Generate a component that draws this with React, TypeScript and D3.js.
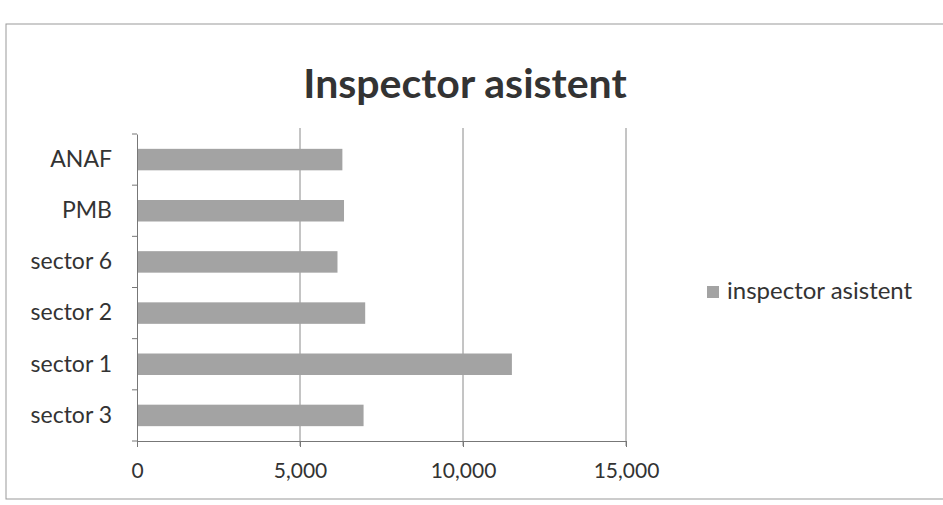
import * as d3 from 'd3';
import React, { useEffect, useRef } from 'react';

const categories = ['ANAF', 'PMB', 'sector 6', 'sector 2', 'sector 1', 'sector 3'];
const values = [6300, 6350, 6150, 7000, 11500, 6950];
const xTicks = [0, 5000, 10000, 15000];
const seriesName = 'inspector asistent';
const title = 'Inspector asistent';

const App = () => {
  const ref = useRef<SVGSVGElement>(null);

  useEffect(() => {
    const width = 943, height = 505;
    const margin = { top: 134, right: 317, bottom: 64, left: 137 };
    const font = 'Lato, Calibri, sans-serif';

    const svg = d3.select(ref.current);
    svg.selectAll('*').remove();

    svg.append('rect')
      .attr('width', width).attr('height', height).attr('fill', '#fff');

    // chart frame
    svg.append('rect')
      .attr('x', 6).attr('y', 24)
      .attr('width', width + 10).attr('height', 475)
      .attr('fill', 'none').attr('stroke', '#999').attr('stroke-width', 1);

    svg.append('text')
      .attr('x', 465).attr('y', 98)
      .attr('text-anchor', 'middle')
      .attr('font-family', font).attr('font-weight', 'bold')
      .attr('font-size', 41).attr('fill', '#333')
      .text(title);

    const x = d3.scaleLinear()
      .domain([0, 15000])
      .range([margin.left, width - margin.right]);

    const y = d3.scaleBand()
      .domain(categories)
      .range([margin.top, height - margin.bottom])
      .paddingInner(0.58)
      .paddingOuter(0.29);

    // gridlines
    svg.append('g')
      .selectAll('line')
      .data(xTicks.slice(1))
      .join('line')
      .attr('x1', d => x(d)).attr('x2', d => x(d))
      .attr('y1', margin.top - 6).attr('y2', height - margin.bottom + 5)
      .attr('stroke', '#8a8a8a').attr('stroke-width', 1);

    svg.selectAll('.bar')
      .data(categories)
      .join('rect')
      .attr('class', 'bar')
      .attr('x', x(0))
      .attr('y', d => y(d)!)
      .attr('width', (d, i) => x(values[i]) - x(0))
      .attr('height', y.bandwidth())
      .attr('fill', '#a3a3a3');

    const gx = svg.append('g')
      .attr('transform', `translate(0,${height - margin.bottom})`)
      .call(d3.axisBottom(x).tickValues(xTicks).tickSize(6).tickPadding(16)
        .tickFormat(d => d3.format(',')(d as number)));
    gx.select('.domain').attr('stroke', '#777');
    gx.selectAll('line').attr('stroke', '#777');
    gx.selectAll('text')
      .attr('font-family', font).attr('font-size', 21).attr('fill', '#333');

    const gy = svg.append('g')
      .attr('transform', `translate(${margin.left},0)`)
      .call(d3.axisLeft(y).tickSize(0).tickPadding(25));
    gy.select('.domain').attr('stroke', '#777');
    gy.selectAll('text')
      .attr('font-family', font).attr('font-size', 23).attr('fill', '#333');

    // category separator ticks
    const step = y.step();
    gy.selectAll('.sep')
      .data(d3.range(categories.length + 1))
      .join('line')
      .attr('class', 'sep')
      .attr('x1', -5).attr('x2', 0)
      .attr('y1', i => margin.top + i * step)
      .attr('y2', i => margin.top + i * step)
      .attr('stroke', '#777');

    const legend = svg.append('g').attr('transform', 'translate(707,286)');
    legend.append('rect')
      .attr('width', 12).attr('height', 12).attr('fill', '#a3a3a3');
    legend.append('text')
      .attr('x', 20).attr('y', 13)
      .attr('font-family', font).attr('font-size', 24).attr('fill', '#333')
      .text(seriesName);
  }, []);

  return (
    <svg ref={ref} width={943} height={505}
      style={{ position: 'absolute', left: 0, top: 0 }} />
  );
};

export default App;
